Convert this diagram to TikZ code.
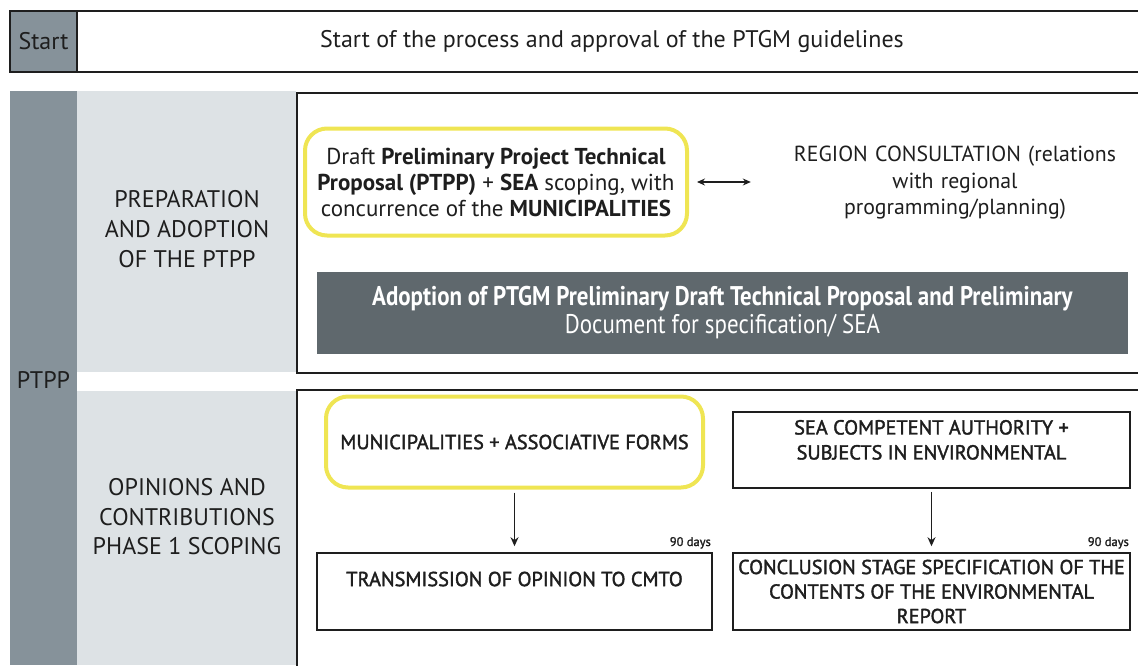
\documentclass[tikz,border=0pt]{standalone}
\usepackage{fontspec}
\setmainfont{PT Sans}
\newfontfamily\condfont[FakeStretch=0.85]{PT Sans}
\newfontfamily\medfont[FakeBold=1.8]{PT Sans}
\usetikzlibrary{arrows.meta}
\definecolor{colgray}{HTML}{86929A}
\definecolor{lightpanel}{HTML}{DDE2E5}
\definecolor{darkbar}{HTML}{5F686D}
\definecolor{hiyellow}{HTML}{EFE553}
\definecolor{ink}{HTML}{1E1E1E}
\tikzset{
  cell/.style={inner sep=0pt, outer sep=0pt},
  frame/.style={draw=ink, line width=1.6pt},
  ybox/.style={draw=hiyellow, line width=4pt, rounded corners=22pt, inner sep=0pt, align=center},
  sbox/.style={draw=ink, line width=1.6pt, inner sep=0pt, align=center, text=ink},
  lbl/.style={align=center, text=ink, inner sep=0pt},
  flow/.style={-{Stealth[length=9pt,width=8pt]}, line width=1pt, draw=ink},
}
\newcommand{\fsz}[2]{\fontsize{#1}{#2}\selectfont}
\begin{document}
\begin{tikzpicture}[x=1pt,y=-1pt]
\useasboundingbox (0,0) rectangle (1138,665);
% top row
\node[cell, frame, fill=colgray, minimum width=67pt, minimum height=61pt, anchor=north west, font=\fsz{24}{28}, text=ink] (start) at (10,11) {Start};
\node[cell, anchor=north west, minimum width=1062pt, minimum height=61pt] (title) at (77,11) {};
\draw[frame] (title.north east) -- (title.north west) -- (title.south west) -- (title.south east);
\node[lbl, font=\fsz{24}{28}] (titletext) at (612,41) {Start of the process and approval of the PTGM guidelines};
% left column
\node[cell, fill=colgray, minimum width=67pt, minimum height=574pt, anchor=north west] (col) at (10,91) {};
\node[lbl, font=\fsz{24}{28}] (ptpp) at (43.5,380) {PTPP};
\node[cell, fill=lightpanel, minimum width=219pt, minimum height=281pt, anchor=north west] (panA) at (77,91) {};
\node[cell, fill=lightpanel, minimum width=219pt, minimum height=274pt, anchor=north west] (panB) at (77,391) {};
\node[lbl, font=\fsz{24}{30}] (labA) at (187,229) {PREPARATION\\AND ADOPTION\\OF THE PTPP};
\node[lbl, font=\fsz{24}{29.5}] (labB) at (187,517) {OPINIONS AND\\CONTRIBUTIONS\\PHASE 1 SCOPING};
% upper box
\node[cell, anchor=north west, minimum width=842pt, minimum height=280pt] (boxA) at (297,93) {};
\draw[frame] (boxA.north east) -- (boxA.north west) -- (boxA.south west) -- (boxA.south east);
% lower box
\node[cell, anchor=north west, minimum width=842pt, minimum height=276pt] (boxB) at (297,390) {};
\draw[frame] (boxB.north east) -- (boxB.north west) -- (boxB.south west);
% upper contents
\node[ybox, minimum width=382pt, minimum height=107pt, font=\fsz{23}{26}, text=ink] (draft) at (496,182)
  {Draft \textbf{Preliminary Project Technical}\\\textbf{Proposal (PTPP)} + \textbf{SEA} scoping, with\\concurrence of the \textbf{MUNICIPALITIES}};
\node[lbl, text width=340pt, font=\fsz{21.8}{26.5}] (region) at (955,183)
  {REGION CONSULTATION (relations\\with regional\\programming/planning)};
\draw[{Stealth[length=8pt,width=7pt]}-{Stealth[length=8pt,width=7pt]}, line width=1.2pt, draw=ink, shorten <=8pt, shorten >=34pt] (draft.east) -- (region.west |- draft.east);
\node[cell, fill=darkbar, minimum width=811pt, minimum height=82pt, text=white, align=center, font=\condfont\fsz{27}{28}] (adopt) at (722.5,313)
  {\textbf{Adoption of PTGM Preliminary Draft Technical Proposal and Preliminary}\\Document for specification/ SEA};
% lower contents
\node[ybox, minimum width=377pt, minimum height=91pt, font=\medfont\fsz{20.3}{24}, text=ink] (muni) at (514.5,442) {MUNICIPALITIES + ASSOCIATIVE FORMS};
\node[sbox, minimum width=395pt, minimum height=77pt, font=\medfont\fsz{20.3}{24}] (trans) at (514.5,591.5) {TRANSMISSION OF OPINION TO CMTO\\[-6pt]\strut};
\node[sbox, minimum width=397pt, minimum height=76pt, font=\medfont\fsz{20.3}{25}] (sea) at (931.5,450) {SEA COMPETENT AUTHORITY +\\SUBJECTS IN ENVIRONMENTAL\\[-12pt]\strut};
\node[sbox, minimum width=397pt, minimum height=77pt, font=\medfont\fsz{20.2}{24.5}] (concl) at (931.5,591.5) {CONCLUSION STAGE SPECIFICATION OF THE\\CONTENTS OF THE ENVIRONMENTAL\\REPORT};
\draw[flow, shorten <=3pt, shorten >=6pt] (muni.south) -- (trans.north);
\draw[flow, shorten <=3pt, shorten >=6pt] (sea.south) -- (concl.north);
\node[lbl, anchor=base east, font=\medfont\fsz{12.5}{14}] (d1) at (711,546) {90 days};
\node[lbl, anchor=base east, font=\medfont\fsz{12.5}{14}] (d2) at (1129,546) {90 days};
\end{tikzpicture}
\end{document}
